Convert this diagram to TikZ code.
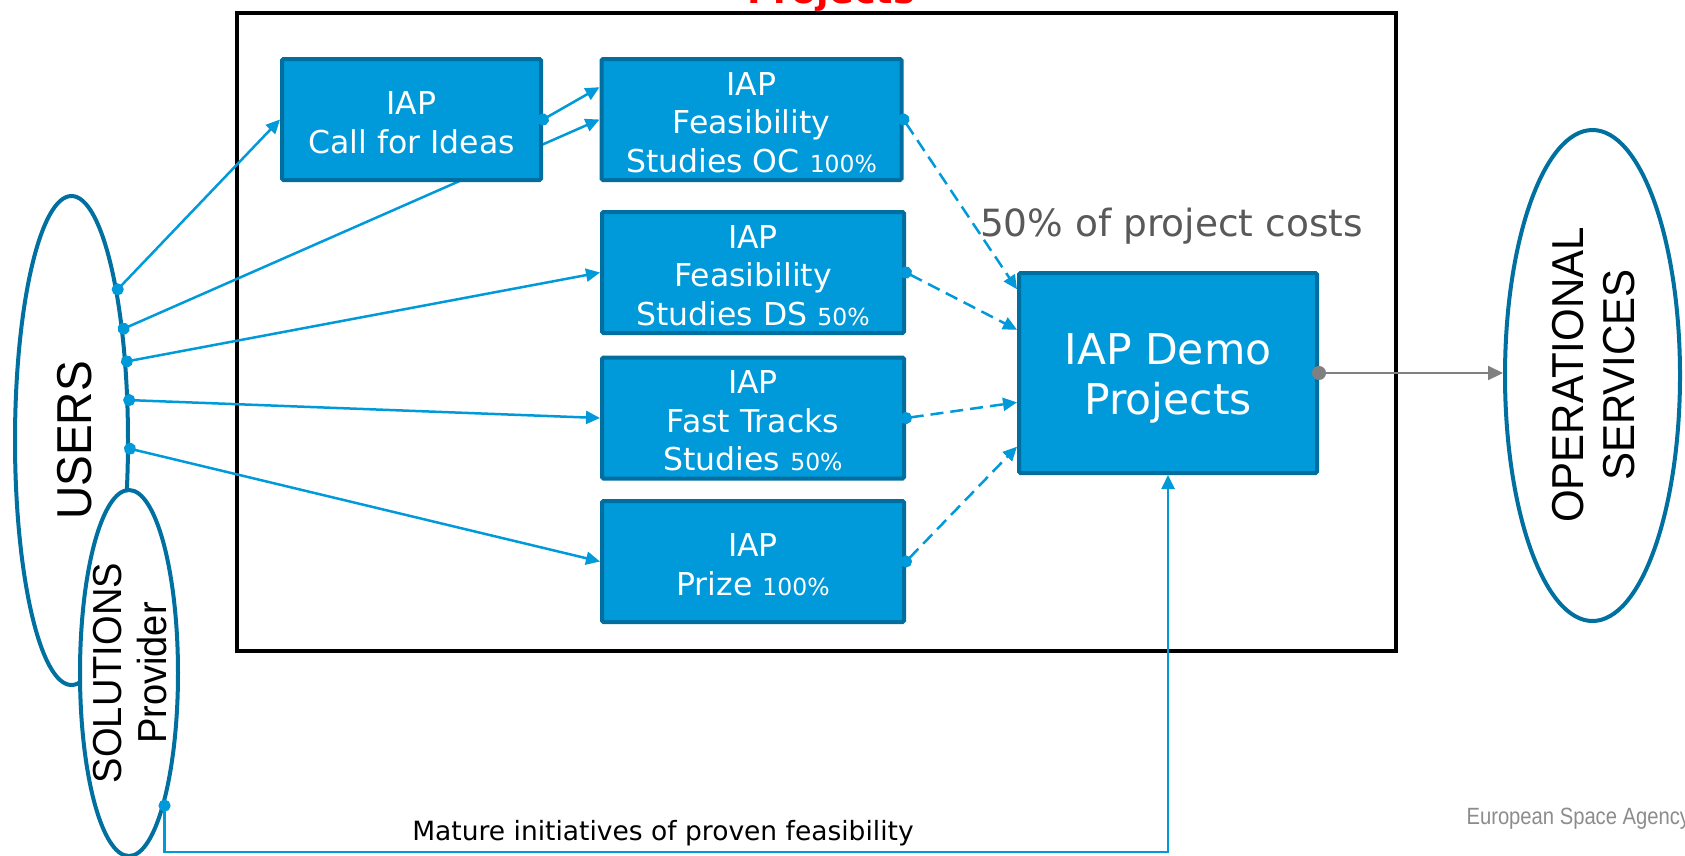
\documentclass[tikz,border=0pt]{standalone}
\usepackage{fontspec}
\setmainfont{DejaVu Sans}
\newfontfamily\narrowfont[FakeStretch=0.94]{Liberation Sans}
\newfontfamily\esafont[FakeStretch=0.86]{Liberation Sans}
\usepackage{tikz}
\usetikzlibrary{arrows.meta, positioning, shapes.geometric}
\definecolor{iapblue}{RGB}{0,153,218}
\definecolor{iapedge}{RGB}{0,111,160}
\definecolor{ovaledge}{RGB}{0,112,160}
\definecolor{costgrey}{RGB}{89,89,89}
\definecolor{esagrey}{RGB}{140,140,140}
\definecolor{linkgrey}{RGB}{128,128,128}
\tikzset{iapbox/.style = {draw=iapedge,fill=iapblue,line width=4pt,rounded corners=1.5pt,
		text=white,align=center,inner sep=0pt,minimum width=302pt,minimum height=121pt,
		font=\fontsize{31.5}{38.5}\selectfont},
	demobox/.style = {iapbox,minimum width=298pt,minimum height=200pt,font=\fontsize{42.5}{50}\selectfont},
	oval/.style = {ellipse,draw=ovaledge,fill=white,line width=4pt,inner sep=0pt},
	ovaltext/.style = {rotate=90,align=center,inner sep=0pt},
	link/.style = {draw=iapblue,line width=2.5pt,shorten <=-6pt,
		{Circle[length=12pt]}-{Triangle[length=14pt,width=13pt]}},
	dashlink/.style = {link,dash pattern=on 13pt off 7pt},
	greylink/.style = {link,draw=linkgrey,line width=2pt,shorten <=-7pt,
		{Circle[length=14pt]}-{Triangle[length=15pt,width=14pt]}}}
\NewDocumentCommand{\pctsmall}{m}{{\fontsize{23.5}{38.5}\selectfont #1\%}}
\NewDocumentCommand{\iaphead}{O{29pt} m}{\rule{0pt}{#1}#2}

\begin{document}
\begin{tikzpicture}[x=1pt,y=-1pt]
\useasboundingbox (0,0) rectangle (1685,855);
% frame round the projects
\node[draw=black,line width=4.5pt,inner sep=0pt,minimum width=1159pt,minimum height=638pt] (projects) at (816.5,332) {};
\node[anchor=base,text=red,font=\bfseries\fontsize{36.5}{40}\selectfont] (projtitle) at (831,3) {Projects};
% actors
\node[oval,minimum width=113pt,minimum height=489pt] (users) at (71.5,440.5) {};
\node[oval,minimum width=98pt,minimum height=366pt] (sol) at (129,673) {};
\node[oval,minimum width=175pt,minimum height=491pt] (ops) at (1592.5,375.5) {};
\node[ovaltext,font=\narrowfont\fontsize{49}{55}\selectfont] (userstxt) at (74.5,440.5) {USERS};
\node[ovaltext,font=\narrowfont\fontsize{40.5}{45}\selectfont] (soltxt) at (130,673) {SOLUTIONS\\Provider};
\node[ovaltext,font=\narrowfont\fontsize{44.7}{51}\selectfont] (opstxt) at (1594,375) {OPERATIONAL\\SERVICES};
% activities
\node[iapbox,minimum width=300pt] (oc) at (751.5,119.5) {\iaphead{IAP}\\Feasibility\\Studies OC \pctsmall{100}};
\node[iapbox] (ds) at (753,272.5) {\iaphead{IAP}\\Feasibility\\Studies DS \pctsmall{50}};
\node[iapbox] (ft) at (753,418) {\iaphead{IAP}\\Fast Tracks\\Studies \pctsmall{50}};
\node[iapbox] (prize) at (753,561.5) {\iaphead{IAP}\\Prize \pctsmall{100}};
\node[demobox] (demo) at (1168,373) {\iaphead[42pt]{IAP Demo}\\Projects};
\draw[link] (users.65) -- (oc.west);
\node[iapbox,minimum width=259pt] (call) at (411.5,119.5) {\iaphead{IAP}\\Call for Ideas};
% links
\draw[link] (users.73) -- (call.west);
\draw[link] (call.east) -- (oc.168);
\draw[link] (users.55) -- (ds.west);
\draw[link] (users.35) -- (ft.west);
\draw[link] (users.-8) -- (prize.west);
\draw[dashlink] (oc.east) -- (demo.151);
\draw[dashlink] (ds.east) -- (demo.164);
\draw[dashlink] (ft.east) -- (demo.191);
\draw[dashlink] (prize.east) -- (demo.206);
\draw[greylink] (demo.east) -- (ops.west |- demo.east);
\coordinate (matline) at (0,852);
\draw[link] (sol.-75) |- (matline -| demo.south) -- (demo.south);
% texts
\node[text=costgrey,font=\fontsize{37.5}{42}\selectfont] (costs) at (1171.5,226) {50\% of project costs};
\node[font=\fontsize{26.5}{30}\selectfont] (mature) at (663,833) {Mature initiatives of proven feasibility};
\node[anchor=base west,text=esagrey,font=\esafont\fontsize{23.5}{26}\selectfont] (esa) at (1463,824) {European Space Agency};
\end{tikzpicture}
\end{document}
